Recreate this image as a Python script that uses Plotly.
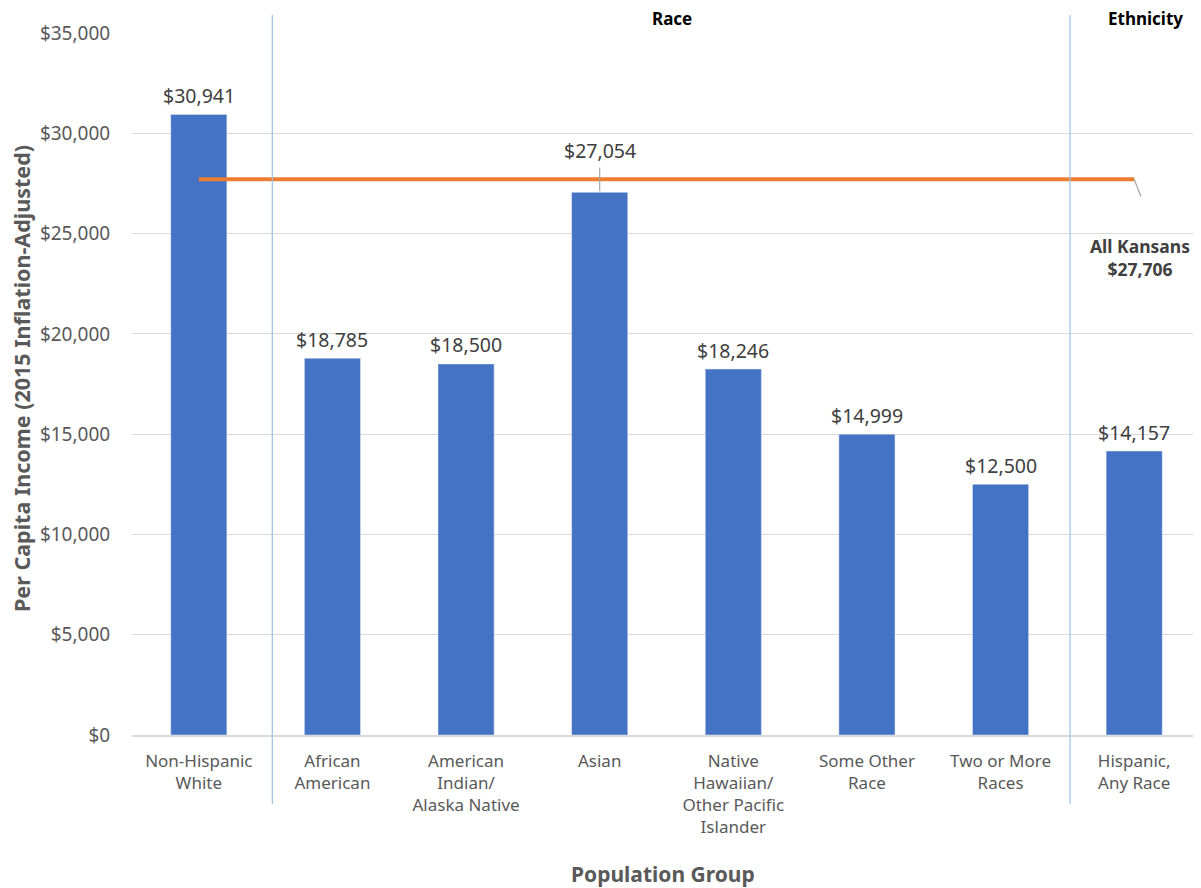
import plotly.graph_objects as go

categories = ["Non-Hispanic<br>White", "African<br>American", "American<br>Indian/<br>Alaska Native",
              "Asian", "Native<br>Hawaiian/<br>Other Pacific<br>Islander", "Some Other<br>Race",
              "Two or More<br>Races", "Hispanic,<br>Any Race"]
income = [30941, 18785, 18500, 27054, 18246, 14999, 12500, 14157]
all_kansans = 27706
y_ticks = [0, 5000, 10000, 15000, 20000, 25000, 30000, 35000]
y_tick_labels = ["$0", "$5,000", "$10,000", "$15,000", "$20,000", "$25,000", "$30,000", "$35,000"]

FONT = "Noto Sans"
GRAY = "#595959"
xs = list(range(len(categories)))

# plot area in window px: x 132..1201, y 33..735 (page body has 8px margin)
def px(X):
    return (X - 132) / 1069

def py(Y):
    return (735 - Y) / 702

fig = go.Figure()
fig.add_trace(go.Bar(x=xs, y=income, marker_color="#4472C4", width=0.42,
                     showlegend=False, hoverinfo="skip"))
fig.add_trace(go.Scatter(x=xs, y=[all_kansans] * len(xs), mode="lines",
                         line=dict(color="#ED7D31", width=4), showlegend=False, hoverinfo="skip"))

for i, v in enumerate(income):
    shift = 42 if i == 3 else 19
    fig.add_annotation(x=i, y=v, text=f"${v:,}", showarrow=False, yshift=shift,
                       xanchor="center", yanchor="middle",
                       font=dict(family=FONT, size=19.5, color="#404040"))
fig.add_shape(type="line", x0=3, x1=3, y0=income[3] + 60, y1=28300,
              line=dict(color="#A6A6A6", width=1.2))
fig.add_shape(type="line", x0=7, x1=7.05, y0=all_kansans, y1=26850,
              line=dict(color="#A6A6A6", width=1.2))
fig.add_annotation(x=px(1140), xref="paper", y=py(258), yref="paper",
                   xanchor="center", yanchor="middle",
                   text="<b>All Kansans<br>$27,706</b>", showarrow=False,
                   font=dict(family=FONT, size=17.5, color="#404040"))

for xv in [0.55, 6.52]:
    fig.add_shape(type="line", x0=xv, x1=xv, xref="x", yref="paper", y0=py(804), y1=py(15),
                  line=dict(color="#9DC3E6", width=1.2))

fig.add_annotation(x=px(672), xref="paper", y=py(18), yref="paper", text="<b>Race</b>",
                   xanchor="center", yanchor="middle",
                   showarrow=False, font=dict(family=FONT, size=17, color="black"))
fig.add_annotation(x=px(1145), xref="paper", y=py(18), yref="paper", text="<b>Ethnicity</b>",
                   xanchor="center", yanchor="middle",
                   showarrow=False, font=dict(family=FONT, size=17, color="black"))

fig.add_annotation(x=px(22), xref="paper", y=py(379), yref="paper", textangle=-90,
                   xanchor="center", yanchor="middle",
                   text="<b>Per Capita Income (2015 Inflation-Adjusted)</b>", showarrow=False,
                   font=dict(family=FONT, size=21.5, color=GRAY))
fig.add_annotation(x=px(663), xref="paper", y=py(874), yref="paper",
                   xanchor="center", yanchor="middle",
                   text="<b>Population Group</b>", showarrow=False,
                   font=dict(family=FONT, size=21, color=GRAY))

fig.update_layout(
    width=1193, height=880,
    margin=dict(l=124, r=0, t=25, b=153, autoexpand=False),
    plot_bgcolor="white", paper_bgcolor="white",
    font=dict(family=FONT, color=GRAY, size=15),
    xaxis=dict(range=[-0.5, 7.5], tickmode="array", tickvals=xs, ticktext=categories,
               showgrid=False, showline=True, linecolor="#D9D9D9", linewidth=1.5,
               ticks="outside", ticklen=10, tickcolor="rgba(0,0,0,0)",
               tickfont=dict(family=FONT, size=17, color=GRAY)),
    yaxis=dict(range=[0, 35000], tickmode="array", tickvals=y_ticks, ticktext=y_tick_labels,
               showgrid=True, gridcolor="#D9D9D9", gridwidth=1, zeroline=False,
               ticks="outside", ticklen=17, tickcolor="rgba(0,0,0,0)",
               tickfont=dict(family=FONT, size=19, color=GRAY)),
)

fig.write_html("out.html")
